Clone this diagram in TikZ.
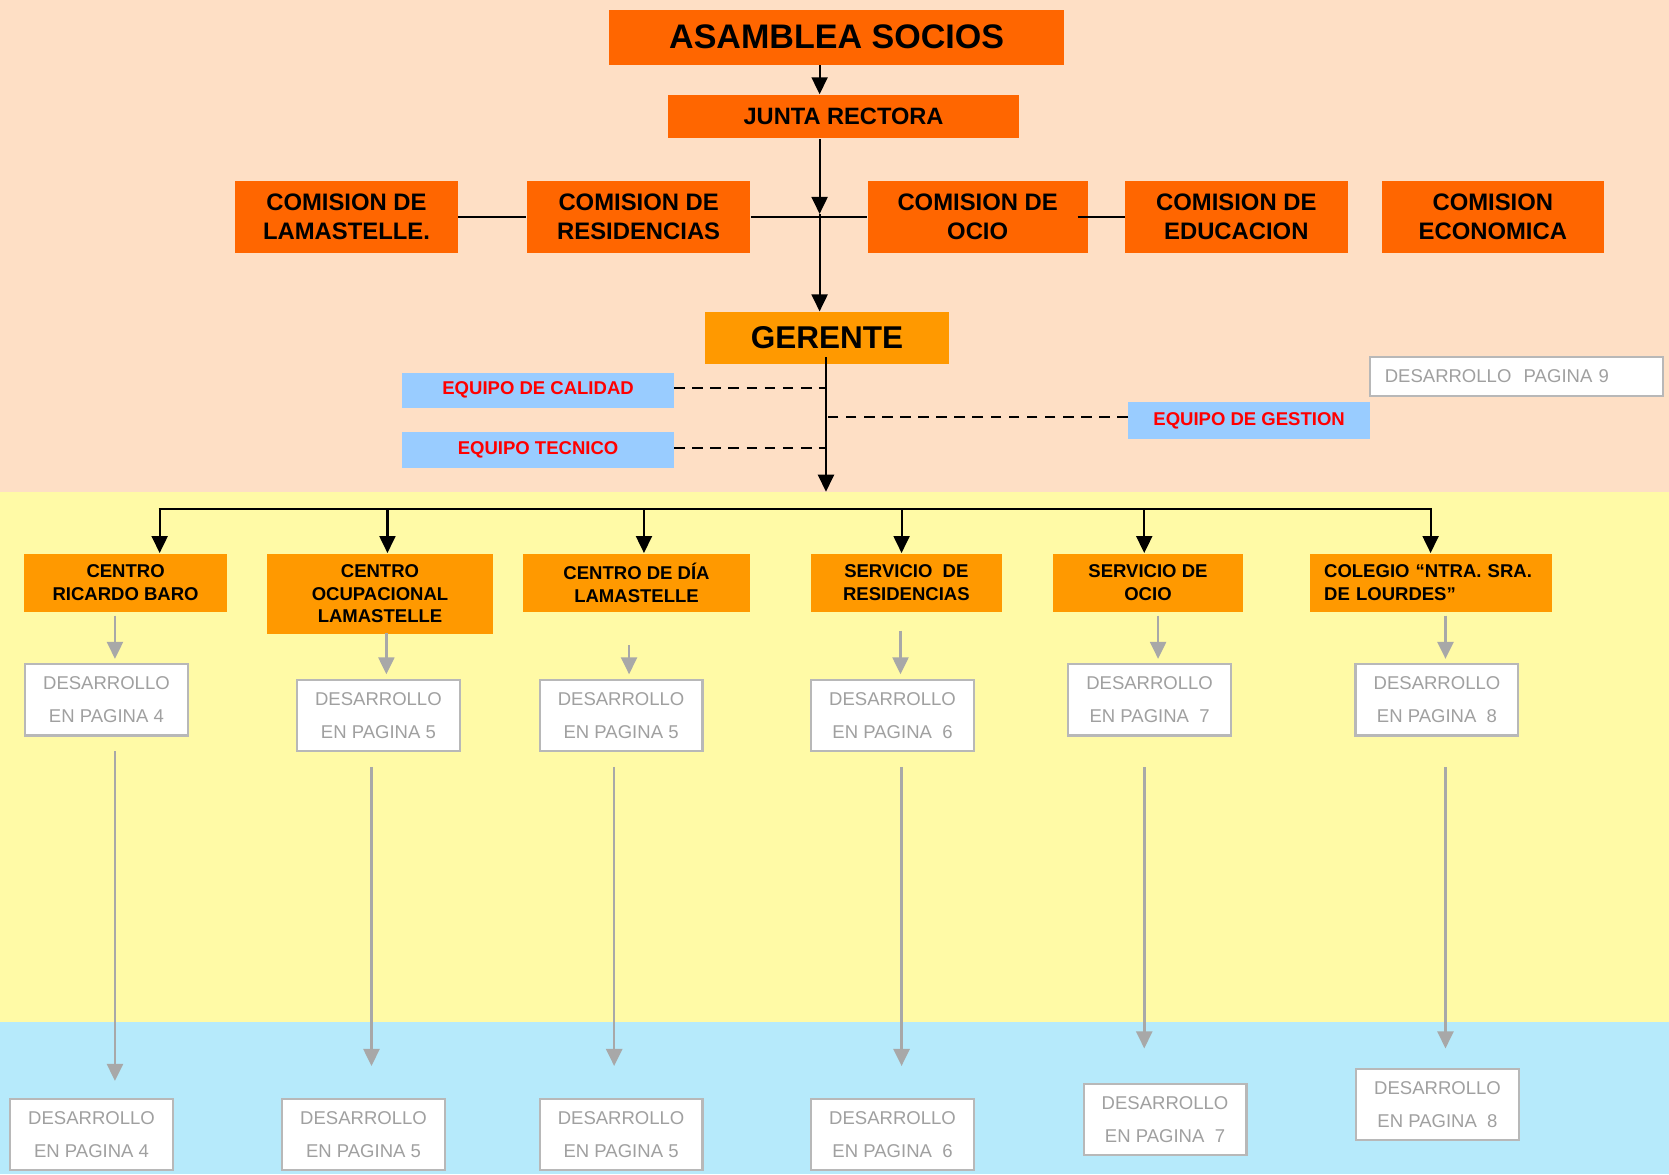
\documentclass[tikz,border=0pt]{standalone}
\usepackage{fontspec}
\setmainfont{Liberation Sans}
\usetikzlibrary{arrows.meta}
\definecolor{peach}{HTML}{FEDFC5}
\definecolor{lyellow}{HTML}{FFFAA6}
\definecolor{lblue}{HTML}{B6EAFB}
\definecolor{orangeA}{HTML}{FF6600}
\definecolor{orangeB}{HTML}{FF9900}
\definecolor{eqblue}{HTML}{99CCFF}
\definecolor{eqred}{HTML}{FF0000}
\definecolor{gtext}{HTML}{A0A0A0}
\definecolor{gline}{HTML}{A8A8A8}
\definecolor{gborder}{HTML}{B8B8B8}
\begin{document}
\begin{tikzpicture}[x=0.5pt,y=-0.5pt,
  bigbox/.style={fill=orangeA, inner sep=0pt, align=center, font=\fontsize{16}{19}\selectfont\bfseries},
  juntabox/.style={fill=orangeA, inner sep=0pt, align=center, font=\fontsize{11.1}{13.5}\selectfont\bfseries},
  combox/.style={fill=orangeA, inner sep=0pt, align=center, minimum height=34pt, font=\fontsize{11.2}{13.5}\selectfont\bfseries},
  gerbox/.style={fill=orangeB, inner sep=0pt, align=center, font=\fontsize{14.8}{17}\selectfont\bfseries},
  eqbox/.style={fill=eqblue, inner sep=0pt, align=center, text=eqred, font=\fontsize{8.7}{10.5}\selectfont\bfseries},
  unitbox/.style={fill=orangeB, inner sep=0pt, align=center, font=\fontsize{8.7}{10.5}\selectfont\bfseries},
  devbox/.style={fill=white, draw=gborder, line width=1pt, inner sep=0pt, align=center, text=gtext, minimum width=76.5pt, minimum height=33.5pt, font=\fontsize{8.7}{15.5}\selectfont},
  arr/.style={draw=black, line width=1pt, -{Triangle[length=8pt,width=7.5pt]}},
  plainline/.style={draw=black, line width=1pt},
  dashline/.style={draw=black, line width=0.9pt, dash pattern=on 5pt off 3.5pt},
  garr/.style={draw=gline, line width=1.2pt, -{Triangle[length=8pt,width=7.5pt]}}]

\useasboundingbox (0,0) rectangle (1568,1103);
\fill[peach] (0,0) rectangle (1568,462);
\fill[lyellow] (0,462) rectangle (1568,960);
\fill[lblue] (0,960) rectangle (1568,1103);

% top levels
\node[bigbox, minimum width=214pt, minimum height=26pt] (asam) at (786,35) {ASAMBLEA SOCIOS};
\node[juntabox, minimum width=164.5pt, minimum height=20.5pt] (junta) at (792.5,109.5) {JUNTA RECTORA};

\node[combox, minimum width=104.5pt] (lam) at (325.5,204) {COMISION DE\\LAMASTELLE.};
\node[combox, minimum width=105pt] (res) at (600,204) {COMISION DE\\RESIDENCIAS};
\node[combox, minimum width=103.5pt] (ocio) at (918.5,204) {COMISION DE\\OCIO};
\node[combox, minimum width=104.5pt] (edu) at (1161.5,204) {COMISION DE\\EDUCACION};
\node[combox, minimum width=104.5pt] (eco) at (1402.5,204) {COMISION\\ECONOMICA};

\node[gerbox, minimum width=115pt, minimum height=24.5pt] (ger) at (777,317.5) {GERENTE};

\node[eqbox, minimum width=127.5pt, minimum height=16.5pt] (cal) at (505.5,366.5) {EQUIPO DE CALIDAD};
\node[eqbox, minimum width=127.5pt, minimum height=17pt] (tec) at (505.5,423) {EQUIPO TECNICO};
\node[eqbox, minimum width=113.5pt, minimum height=17pt] (gest) at (1173.5,395) {EQUIPO DE GESTION};

\node[fill=white, draw=gborder, line width=1pt, inner xsep=7pt, inner ysep=0pt, text width=123.5pt, align=left, minimum height=18.5pt, text=gtext, font=\fontsize{8.7}{10.5}\selectfont] (pag9) at (1424.5,353.5) {DESARROLLO\ \ PAGINA 9};

% connectors top
\coordinate (jx) at (770,0);
\coordinate (hub) at (770,201);
\coordinate (gl) at (776,0);
\coordinate (gtip) at (776,462);
\draw[arr] (asam.south -| jx) -- (junta.north -| jx);
\draw[arr] (junta.south -| jx) -- (hub);
\draw[plainline] (lam.east) -- (res.west);
\draw[plainline] (res.east) -- (ocio.west);
\draw[plainline] ([xshift=-5pt]ocio.east) -- (edu.west);
\draw[arr] (hub) -- (hub |- ger.north);
\draw[arr, shorten <=-3.5pt] (ger.south -| gtip) -- (gtip);
\draw[dashline] ([yshift=1pt]cal.east) -- ([yshift=1pt]cal.east -| gl);
\draw[dashline] ([yshift=1pt]tec.east) -- ([yshift=1pt]tec.east -| gl);
\draw[dashline] ([yshift=1.5pt]gest.west) -- ([yshift=1.5pt]gest.west -| gl);

% level 2
\node[unitbox, minimum width=95pt, minimum height=27.5pt] (c1) at (118,547.5) {CENTRO\\RICARDO BARO};
\node[unitbox, minimum width=106pt, minimum height=38pt] (c2) at (357,558) {CENTRO\\OCUPACIONAL\\LAMASTELLE};
\node[unitbox, minimum width=107pt, minimum height=27.5pt] (c3) at (598,547.5) {CENTRO DE DÍA\\LAMASTELLE};
\node[unitbox, minimum width=89.5pt, minimum height=27.5pt] (c4) at (851.5,547.5) {SERVICIO\ \ DE\\RESIDENCIAS};
\node[unitbox, minimum width=89.5pt, minimum height=27.5pt] (c5) at (1078.5,547.5) {SERVICIO DE\\OCIO};
\node[unitbox, inner xsep=6.5pt, text width=100.5pt, align=left, minimum height=27.5pt] (c6) at (1344.5,547.5) {COLEGIO “NTRA. SRA.\\DE LOURDES”};

\coordinate (b1) at (150,478);
\coordinate (b2) at (364,478);
\coordinate (b3) at (605,478);
\coordinate (b4) at (847,478);
\coordinate (b5) at (1075,478);
\coordinate (b6) at (1344,478);
\draw[plainline] ([xshift=-0.5pt]b1) -- ([xshift=0.5pt]b6);
\foreach \i in {1,...,6} {\draw[arr] (b\i) -- (b\i |- c\i.north);}

% development boxes
\node[devbox] (d1) at (100,657.5) {DESARROLLO\\EN PAGINA 4};
\node[devbox] (d2) at (355.5,672) {DESARROLLO\\EN PAGINA 5};
\node[devbox] (d3) at (583.5,672) {DESARROLLO\\EN PAGINA 5};
\node[devbox] (d4) at (838.5,672) {DESARROLLO\\EN PAGINA\ \ 6};
\node[devbox] (d5) at (1080,657.5) {DESARROLLO\\EN PAGINA\ \ 7};
\node[devbox] (d6) at (1350,657.5) {DESARROLLO\\EN PAGINA\ \ 8};
\node[devbox] (e1) at (86,1066) {DESARROLLO\\EN PAGINA 4};
\node[devbox] (e2) at (341.5,1066) {DESARROLLO\\EN PAGINA 5};
\node[devbox] (e3) at (583.5,1066) {DESARROLLO\\EN PAGINA 5};
\node[devbox] (e4) at (838.5,1066) {DESARROLLO\\EN PAGINA\ \ 6};
\node[devbox] (e5) at (1094.5,1051.5) {DESARROLLO\\EN PAGINA\ \ 7};
\node[devbox] (e6) at (1350.5,1037.5) {DESARROLLO\\EN PAGINA\ \ 8};

\coordinate (s1) at (108,0);
\coordinate (s2) at (363,0);
\coordinate (s3) at (591,0);
\coordinate (s4) at (846,0);
\coordinate (s5) at (1088,0);
\coordinate (s6) at (1358,0);
\coordinate (l1) at (108,0);
\coordinate (l2) at (349,0);
\coordinate (l3) at (577,0);
\coordinate (l4) at (847,0);
\coordinate (l5) at (1075,0);
\coordinate (l6) at (1358,0);

\draw[garr, shorten <=1.5pt, shorten >=2pt] (c1.south -| s1) -- (d1.north -| s1);
\draw[garr, shorten <=-1pt, shorten >=2pt] (c2.south -| s2) -- (d2.north -| s2);
\draw[garr, shorten <=15.5pt, shorten >=2pt] (c3.south -| s3) -- (d3.north -| s3);
\draw[garr, shorten <=8.5pt, shorten >=2pt] (c4.south -| s4) -- (d4.north -| s4);
\draw[garr, shorten <=1.5pt, shorten >=2pt] (c5.south -| s5) -- (d5.north -| s5);
\draw[garr, shorten <=1.5pt, shorten >=2pt] (c6.south -| s6) -- (d6.north -| s6);

\draw[garr, shorten <=7pt, shorten >=8pt] (d1.south -| l1) -- (e1.north -| l1);
\draw[garr, shorten <=7pt, shorten >=15pt] (d2.south -| l2) -- (e2.north -| l2);
\draw[garr, shorten <=7pt, shorten >=15pt] (d3.south -| l3) -- (e3.north -| l3);
\draw[garr, shorten <=7pt, shorten >=15pt] (d4.south -| l4) -- (e4.north -| l4);
\draw[garr, shorten <=14.5pt, shorten >=16pt] (d5.south -| l5) -- (e5.north -| l5);
\draw[garr, shorten <=14.5pt, shorten >=9pt] (d6.south -| l6) -- (e6.north -| l6);
\end{tikzpicture}
\end{document}
